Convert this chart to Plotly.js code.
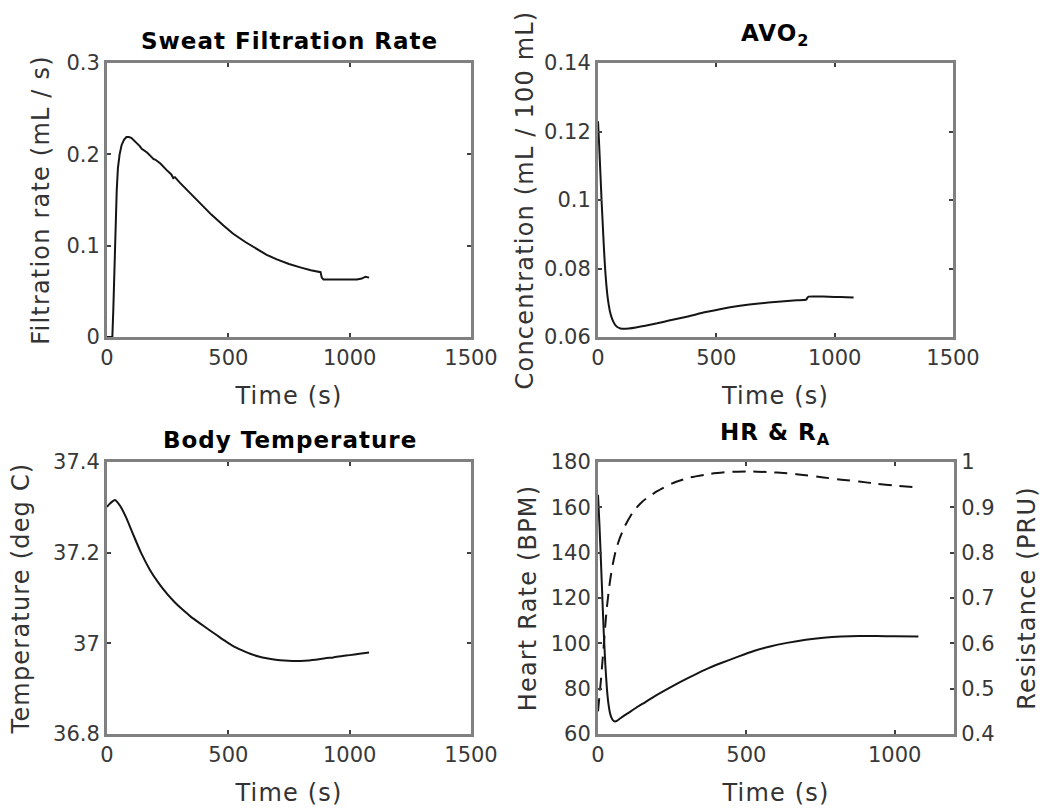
<!DOCTYPE html>
<html><head><meta charset="utf-8">
<script src="https://cdn.plot.ly/plotly-3.0.1.min.js"></script>
<style>
html,body{margin:0;padding:0;background:#fff;}
#chart{width:1055px;height:811px;}
.xtitle,.x2title,.x3title,.x4title,.ytitle,.y2title,.y3title,.y4title,.y5title{letter-spacing:1.2px;}
.annotation-text{letter-spacing:1px;}
</style></head><body><div id="chart"></div><script>
// ---- Data ----
const sweatTime = [0, 22, 26, 30, 35, 40, 45, 52, 60, 70, 80, 90, 100, 108, 115, 125, 135, 143, 150, 165, 180, 191, 200, 220, 245, 265, 273, 280, 300, 340, 383, 430, 480, 520, 570, 620, 658, 700, 750, 800, 840, 880, 885, 892, 920, 960, 1000, 1030, 1050, 1065, 1080];
const sweatRate = [0, 0, 0.03, 0.075, 0.12, 0.16, 0.185, 0.2, 0.21, 0.216, 0.219, 0.219, 0.218, 0.216, 0.214, 0.212, 0.209, 0.206, 0.205, 0.202, 0.198, 0.195, 0.194, 0.19, 0.183, 0.178, 0.174, 0.175, 0.169, 0.158, 0.146, 0.134, 0.122, 0.113, 0.104, 0.096, 0.09, 0.085, 0.08, 0.076, 0.073, 0.071, 0.065, 0.063, 0.063, 0.063, 0.063, 0.063, 0.064, 0.066, 0.065];

const avoTime = [0, 5, 10, 15, 20, 25, 30, 35, 40, 45, 50, 60, 70, 80, 95, 110, 130, 160, 200, 250, 300, 380, 450, 520, 600, 680, 760, 840, 880, 885, 890, 950, 1000, 1050, 1080];
const avoConc = [0.123, 0.116, 0.108, 0.1, 0.093, 0.086, 0.08, 0.0755, 0.072, 0.0695, 0.0676, 0.0652, 0.0638, 0.063, 0.0625, 0.0624, 0.0625, 0.0628, 0.0633, 0.064, 0.0648, 0.066, 0.0672, 0.0682, 0.0691, 0.0698, 0.0703, 0.0707, 0.0709, 0.0715, 0.0718, 0.0718, 0.0717, 0.0716, 0.0715];

const tempTime = [0, 10, 20, 33, 45, 60, 80, 108, 140, 177, 210, 246, 280, 310, 345, 383, 420, 450, 485, 520, 555, 590, 625, 658, 695, 730, 765, 796, 830, 860, 900, 933, 970, 1000, 1040, 1080];
const tempValue = [37.301, 37.307, 37.312, 37.316, 37.310, 37.298, 37.276, 37.240, 37.200, 37.162, 37.135, 37.110, 37.090, 37.075, 37.059, 37.044, 37.030, 37.019, 37.006, 36.994, 36.985, 36.977, 36.971, 36.967, 36.964, 36.962, 36.961, 36.961, 36.962, 36.964, 36.967, 36.969, 36.972, 36.974, 36.977, 36.980];

const hrTime = [0, 5, 10, 15, 20, 25, 30, 35, 40, 45, 50, 57, 65, 80, 100, 130, 160, 189, 250, 301, 360, 413, 470, 525, 580, 637, 700, 760, 820, 880, 940, 1000, 1080];
const hrValue = [165.5, 152, 136, 119, 103, 90, 80, 73.5, 69.5, 67.3, 66.1, 65.5, 65.9, 67.4, 69.1, 71.7, 74.1, 76.5, 81.0, 84.5, 88.3, 91.2, 94.0, 96.6, 98.6, 100.2, 101.6, 102.5, 103.0, 103.2, 103.2, 103.1, 103.0];

const raTime = [0, 5, 10, 15, 20, 24, 30, 40, 46, 50, 60, 74, 90, 118, 150, 198, 250, 310, 380, 440, 501, 570, 637, 700, 760, 820, 880, 940, 1000, 1080];
const raValue = [0.45, 0.485, 0.52, 0.56, 0.6, 0.635, 0.68, 0.735, 0.76, 0.775, 0.805, 0.833, 0.858, 0.89, 0.913, 0.935, 0.953, 0.966, 0.974, 0.978, 0.979, 0.978, 0.975, 0.971, 0.966, 0.961, 0.957, 0.952, 0.948, 0.944];

// ---- Tick labels ----
const timeTicks = [0, 500, 1000, 1500];
const timeTickText = ['0', '500', '1000', '1500'];
const hrTimeTicks = [0, 500, 1000];
const hrTimeTickText = ['0', '500', '1000'];
const sweatTicks = [0, 0.1, 0.2, 0.3];
const sweatTickText = ['0', '0.1', '0.2', '0.3'];
const avoTicks = [0.06, 0.08, 0.1, 0.12, 0.14];
const avoTickText = ['0.06', '0.08', '0.1', '0.12', '0.14'];
const tempTicks = [36.8, 37, 37.2, 37.4];
const tempTickText = ['36.8', '37', '37.2', '37.4'];
const hrTicks = [60, 80, 100, 120, 140, 160, 180];
const hrTickText = ['60', '80', '100', '120', '140', '160', '180'];
const raTicks = [0.4, 0.5, 0.6, 0.7, 0.8, 0.9, 1];
const raTickText = ['0.4', '0.5', '0.6', '0.7', '0.8', '0.9', '1'];

const W = 1055, H = 811;
const px = v => v / W;
const py = v => 1 - v / H;

const lineStyle = {color: '#151515', width: 2};
const traces = [
  {x: sweatTime, y: sweatRate, xaxis: 'x', yaxis: 'y', mode: 'lines', line: lineStyle},
  {x: avoTime, y: avoConc, xaxis: 'x2', yaxis: 'y2', mode: 'lines', line: Object.assign({shape: 'spline', smoothing: 0.5}, lineStyle)},
  {x: tempTime, y: tempValue, xaxis: 'x3', yaxis: 'y3', mode: 'lines', line: Object.assign({shape: 'spline', smoothing: 0.5}, lineStyle)},
  {x: hrTime, y: hrValue, xaxis: 'x4', yaxis: 'y4', mode: 'lines', line: Object.assign({shape: 'spline', smoothing: 0.5}, lineStyle)},
  {x: raTime, y: raValue, xaxis: 'x4', yaxis: 'y5', mode: 'lines', line: {color: '#151515', width: 2, dash: '13px,8px', shape: 'spline', smoothing: 0.5}}
];

const tickFont = {family: 'DejaVu Sans', size: 21, color: '#383838'};
const labFont = {family: 'DejaVu Sans', size: 24, color: '#333'};
function ax(extra) {
  return Object.assign({
    showline: true, linecolor: '#808080', linewidth: 3, mirror: 'ticks',
    ticks: 'inside', ticklen: 4, tickwidth: 2, tickcolor: '#404040',
    showgrid: false, zeroline: false, automargin: false, fixedrange: true,
    tickmode: 'array', tickfont: tickFont
  }, extra);
}

const topY = [py(337), py(63)];
const botY = [py(734), py(462)];
const leftX = [px(107), px(471)];
const rightX = [px(598), px(953)];
const rightX4 = [px(598), px(954)];

const layout = {
  width: W, height: H,
  margin: {l: 0, r: 0, t: 0, b: 0},
  paper_bgcolor: '#fff', plot_bgcolor: '#fff',
  showlegend: false,
  xaxis: ax({domain: leftX, anchor: 'y', range: [0, 1500], tickvals: timeTicks, ticktext: timeTickText,
    title: {text: 'Time (s)', font: labFont, standoff: 18}}),
  yaxis: ax({domain: topY, anchor: 'x', range: [0, 0.3], tickvals: sweatTicks, ticktext: sweatTickText,
    title: {text: 'Filtration rate (mL / s)', font: labFont, standoff: 10}}),
  xaxis2: ax({domain: rightX, anchor: 'y2', range: [0, 1500], tickvals: timeTicks, ticktext: timeTickText,
    title: {text: 'Time (s)', font: labFont, standoff: 18}}),
  yaxis2: ax({domain: topY, anchor: 'x2', range: [0.06, 0.14], tickvals: avoTicks, ticktext: avoTickText,
    title: {text: 'Concentration (mL / 100 mL)', font: labFont, standoff: 4}}),
  xaxis3: ax({domain: leftX, anchor: 'y3', range: [0, 1500], tickvals: timeTicks, ticktext: timeTickText,
    title: {text: 'Time (s)', font: labFont, standoff: 18}}),
  yaxis3: ax({domain: botY, anchor: 'x3', range: [36.8, 37.4], tickvals: tempTicks, ticktext: tempTickText,
    title: {text: 'Temperature (deg C)', font: labFont, standoff: 17}}),
  xaxis4: ax({domain: rightX4, anchor: 'y4', range: [0, 1200], tickvals: hrTimeTicks, ticktext: hrTimeTickText,
    title: {text: 'Time (s)', font: labFont, standoff: 18}}),
  yaxis4: ax({domain: botY, anchor: 'x4', mirror: false, range: [60, 180], tickvals: hrTicks, ticktext: hrTickText,
    title: {text: 'Heart Rate (BPM)', font: labFont, standoff: 8}}),
  yaxis5: ax({domain: botY, anchor: 'x4', overlaying: 'y4', side: 'right', mirror: false, range: [0.4, 1], tickvals: raTicks, ticktext: raTickText,
    title: {text: 'Resistance (PRU)', font: labFont, standoff: 25}}),
  annotations: [
    {text: 'Sweat Filtration Rate', x: px(289), y: py(41)},
    {text: 'AVO<sub>2</sub>', x: px(775), y: py(35)},
    {text: 'Body Temperature', x: px(290), y: py(440)},
    {text: 'HR &amp; R<sub>A</sub>', x: px(775), y: py(434)}
  ].map(a => Object.assign({xref: 'paper', yref: 'paper', showarrow: false, xanchor: 'center', yanchor: 'middle',
    font: {family: 'DejaVu Sans', size: 23, color: '#000', weight: 'bold'}}, a))
};

Plotly.newPlot('chart', traces, layout, {displayModeBar: false, staticPlot: true});
</script></body></html>
